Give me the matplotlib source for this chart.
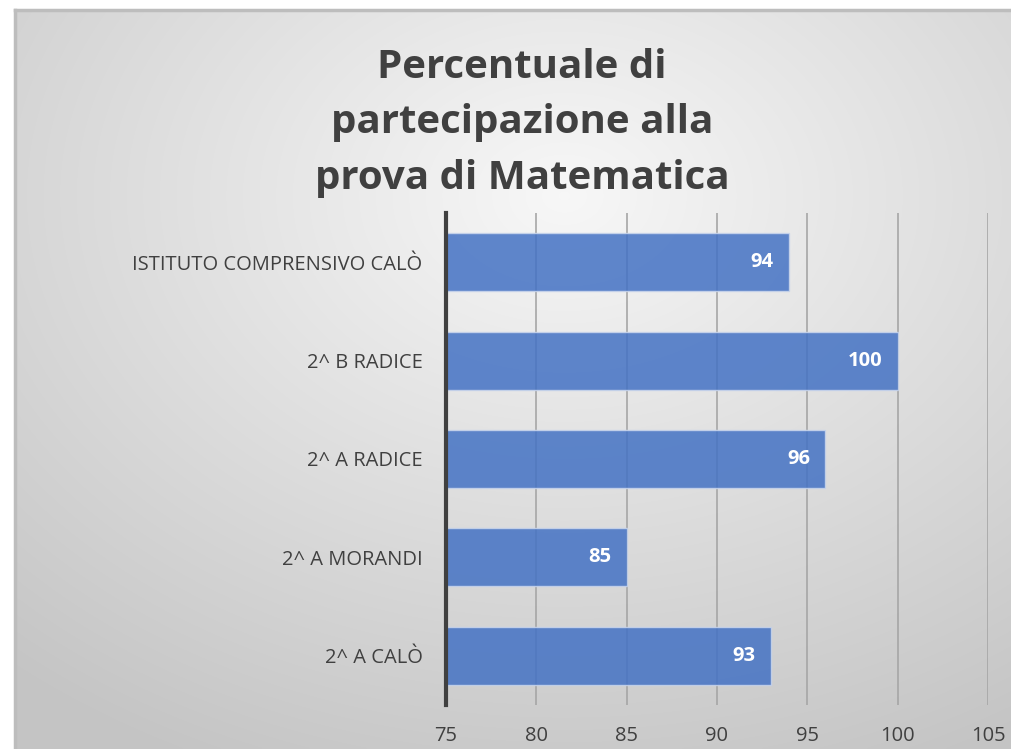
import numpy as np
import matplotlib
matplotlib.use("Agg")
import matplotlib.pyplot as plt
from matplotlib.lines import Line2D

categories = ["2^ A CALÒ", "2^ A MORANDI", "2^ A RADICE", "2^ B RADICE",
              "ISTITUTO COMPRENSIVO CALÒ"]
values = [93, 85, 96, 100, 94]
xticks = [75, 80, 85, 90, 95, 100, 105]

plt.rcParams['font.family'] = ['Open Sans', 'DejaVu Sans']
text_col = "#404040"

fig = plt.figure(figsize=(10.12, 7.49), dpi=100)
fig.patch.set_facecolor("white")

# chart area background: radial gradient
x0, y_top = 15 / 1012, 1 - 10 / 749
bg = fig.add_axes([x0, 0, 1 - x0, y_top])
h, w = 300, 400
yy, xx = np.mgrid[0:h, 0:w]
cx, cy = 0.55 * w, 0.25 * h
r = np.sqrt(((xx - cx) / w) ** 2 + ((yy - cy) / h) ** 2) / 0.85
r = np.clip(r, 0, 1)
shade = 0.97 - 0.2 * r
bg.imshow(np.dstack([shade] * 3), aspect="auto", extent=[0, 1, 0, 1],
          origin="upper", interpolation="bilinear")
bg.set_xlim(0, 1)
bg.set_ylim(0, 1)
bg.axis("off")

# thin border on top and left of the chart area
fig.add_artist(Line2D([x0, 1.0], [y_top, y_top], color="#bdbdbd", lw=2.5))
fig.add_artist(Line2D([x0, x0], [0, y_top], color="#bdbdbd", lw=2.5))

ax = fig.add_axes([446 / 1012, 1 - 705 / 749, 542 / 1012, 492 / 749])
ax.patch.set_alpha(0)
y = np.arange(len(categories))
ax.barh(y, [v - 75 for v in values], left=75, height=0.59,
        color="#4472c4", alpha=0.85, edgecolor="#c9d5ec", lw=1, zorder=3)
for yi, v in zip(y, values):
    ax.text(v - 0.85, yi, str(v), ha="right", va="center", color="white",
            fontsize=14.5, fontweight="bold", zorder=4)

ax.set_xlim(75, 105)
ax.set_ylim(-0.5, 4.5)
ax.set_xticks(xticks)
ax.set_xticklabels([str(t) for t in xticks], fontsize=14.5, color=text_col)
ax.set_yticks(y)
ax.set_yticklabels(categories, fontsize=14.5, color=text_col)
ax.tick_params(axis="both", length=0)
ax.tick_params(axis="x", pad=15)
ax.tick_params(axis="y", pad=17)
ax.grid(axis="x", color="#a6a6a6", lw=1.2, zorder=1)
for s in ["top", "right", "bottom"]:
    ax.spines[s].set_visible(False)
ax.spines["left"].set_color("#404040")
ax.spines["left"].set_linewidth(3)
ax.spines["left"].set_zorder(5)

fig.text(522 / 1012, 1 - 123 / 749,
         "Percentuale di\npartecipazione alla\nprova di Matematica",
         ha="center", va="center", fontsize=29, fontweight="bold",
         color=text_col, linespacing=1.55)

fig.savefig("out.png", dpi=100)
